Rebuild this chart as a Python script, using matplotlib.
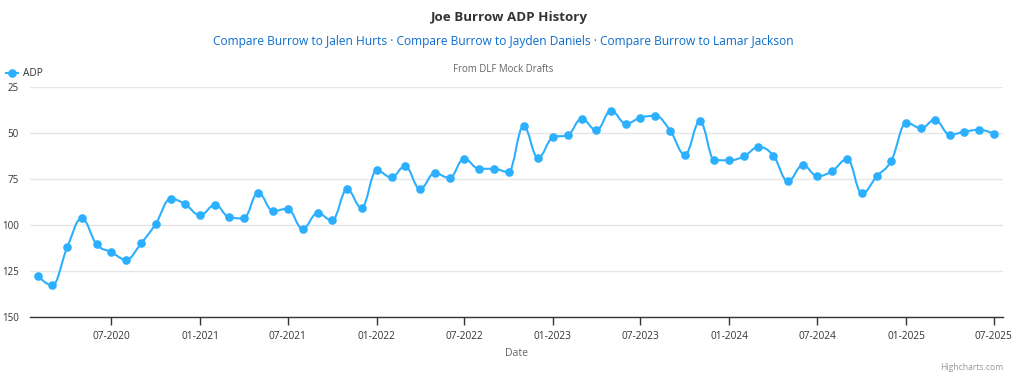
import matplotlib
matplotlib.use("Agg")
import matplotlib.pyplot as plt
import matplotlib.dates as mdates
from matplotlib.path import Path
from matplotlib.patches import PathPatch
from matplotlib.lines import Line2D
import numpy as np
import pandas as pd

plt.rcParams['font.family'] = ['Open Sans', 'DejaVu Sans']

# ---- data ----
start_month = "2020-02-01"
end_month = "2025-07-01"
adp = [128, 133, 112.3, 96.6, 110.7, 114.9, 119, 110.1, 99.6, 85.9, 88.9,
       94.9, 89.1, 95.8, 96.6, 82.6, 92.6, 91.3, 102.2, 93.7, 97.7, 80.8, 90.8,
       70.5, 74.3, 68.1, 80.6, 72, 74.6, 64.1, 69.6, 69.6, 71.4, 46.4, 63.6,
       52.5, 51.3, 42.4, 48.7, 38, 45.1, 41.8, 40.8, 49.1, 62, 43.7, 64.9,
       65, 62.7, 57.8, 62.5, 76.4, 67.6, 73.6, 70.8, 64.3, 83, 73.6, 65.2,
       44.6, 47.6, 42.9, 51.1, 49.5, 48.4, 50.5]
dates = pd.date_range(start_month, end_month, freq="MS")
yticks = [25, 50, 75, 100, 125, 150]
xtick_dates = pd.date_range("2020-07-01", "2025-07-01", freq="6MS")

title = "Joe Burrow ADP History"
links = "Compare Burrow to Jalen Hurts · Compare Burrow to Jayden Daniels · Compare Burrow to Lamar Jackson"
subtitle = "From DLF Mock Drafts"
series_name = "ADP"
xlabel = "Date"

LINE = "#2caffe"
W, H = 1018, 381
fig = plt.figure(figsize=(W / 100, H / 100), dpi=100)
L, R, T, B = 29.5, 1003, 86.7, 316.7
ax = fig.add_axes([L / W, 1 - B / H, (R - L) / W, (B - T) / H])

x = mdates.date2num(dates.to_pydatetime())
y = np.array(adp, dtype=float)

# Highcharts-like spline path
def spline_path(xs, ys, smoothing=1.5):
    n = len(xs)
    denom = smoothing + 1
    lc = [None] * n
    rc = [None] * n
    for i in range(1, n - 1):
        px, py = xs[i], ys[i]
        lx, ly = xs[i - 1], ys[i - 1]
        nx, ny = xs[i + 1], ys[i + 1]
        lcx = (smoothing * px + lx) / denom
        lcy = (smoothing * py + ly) / denom
        rcx = (smoothing * px + nx) / denom
        rcy = (smoothing * py + ny) / denom
        if rcx != lcx:
            corr = ((rcy - lcy) * (rcx - px)) / (rcx - lcx) + py - rcy
            lcy += corr
            rcy += corr
        if lcy > ly and lcy > py:
            lcy = max(ly, py); rcy = 2 * py - lcy
        elif lcy < ly and lcy < py:
            lcy = min(ly, py); rcy = 2 * py - lcy
        if rcy > ny and rcy > py:
            rcy = max(ny, py); lcy = 2 * py - rcy
        elif rcy < ny and rcy < py:
            rcy = min(ny, py); lcy = 2 * py - rcy
        lc[i] = (lcx, lcy)
        rc[i] = (rcx, rcy)
    lc[n - 1] = (xs[n - 1], ys[n - 1])
    rc[0] = (xs[0], ys[0])
    verts = [(xs[0], ys[0])]
    codes = [Path.MOVETO]
    for i in range(1, n):
        verts += [rc[i - 1], lc[i], (xs[i], ys[i])]
        codes += [Path.CURVE4] * 3
    return Path(verts, codes)

ax.add_patch(PathPatch(spline_path(x, y), facecolor="none", edgecolor=LINE,
                       lw=1.5, zorder=3, capstyle="round", joinstyle="round"))
ax.plot(x, y, linestyle="none", marker="o", ms=6.2, mew=0, color=LINE, zorder=4)

x0 = mdates.date2num(pd.Timestamp("2020-01-14"))
x1 = mdates.date2num(pd.Timestamp("2025-07-20"))
ax.set_xlim(x0, x1)
ax.set_ylim(150, 25)

ax.set_yticks(yticks)
ax.set_yticklabels([str(v) for v in yticks])
ax.tick_params(axis="y", length=0, pad=7.8, labelsize=7.0, labelcolor="#333333")
ax.set_xticks(mdates.date2num(xtick_dates.to_pydatetime()))
ax.set_xticklabels([d.strftime("%m-%Y") for d in xtick_dates])
ax.tick_params(axis="x", length=6, width=1, color="#333333", pad=4,
               labelsize=7.3, labelcolor="#333333")

ax.grid(axis="y", color="#e6e6e6", lw=1)
ax.set_axisbelow(True)
for s in ["top", "right", "left"]:
    ax.spines[s].set_visible(False)
ax.spines["bottom"].set_color("#333333")
ax.spines["bottom"].set_linewidth(1)

# texts
fig.text(509 / W, 1 - 17 / H, title, ha="center", va="center",
         fontsize=9.6, fontweight="bold", color="#333333")
fig.text(503 / W, 1 - 41 / H, links, ha="center", va="center",
         fontsize=8.65, color="#0d6ecd")
fig.text(503 / W, 1 - 69 / H, subtitle, ha="center", va="center",
         fontsize=6.9, color="#666666")
fig.text(516 / W, 1 - 353 / H, xlabel, ha="center", va="center",
         fontsize=7.6, color="#666666")
fig.text(1003 / W, 1 - 368 / H, "Highcharts.com", ha="right", va="center",
         fontsize=6.2, color="#999999")

# legend
ly = 1 - 73 / H
fig.add_artist(Line2D([6 / W, 18 / W], [ly, ly], color=LINE, lw=1.5,
                      transform=fig.transFigure))
fig.add_artist(Line2D([12 / W], [ly], marker="o", ms=6.2, mew=0, color=LINE,
                      transform=fig.transFigure))
fig.text(23 / W, ly, series_name, ha="left", va="center", fontsize=7.3,
         color="#333333")

fig.savefig("out.png", dpi=100)
